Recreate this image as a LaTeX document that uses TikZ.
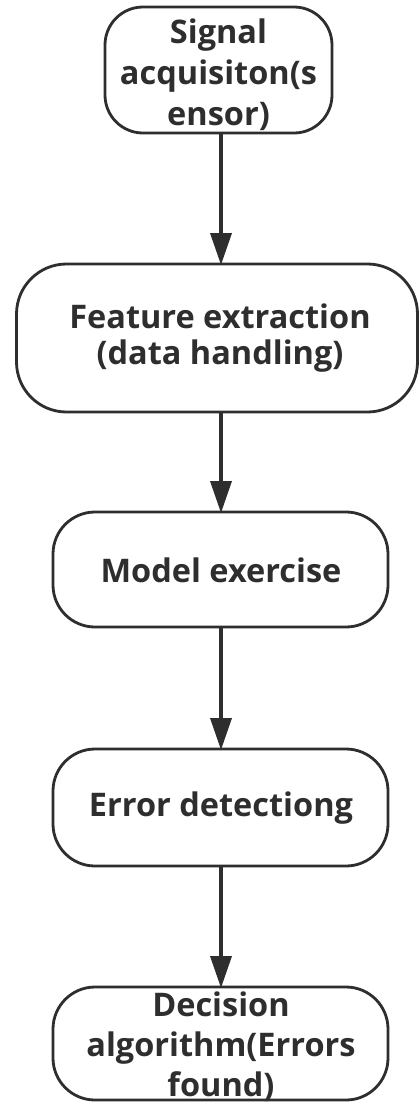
\documentclass[tikz,border=0pt]{standalone}
\usepackage{fontspec}
\setmainfont{Open Sans}
\usetikzlibrary{arrows.meta}
\definecolor{ink}{HTML}{2E2E2E}
\begin{document}
\begin{tikzpicture}[x=1pt,y=-1pt,
  box/.style={draw=ink, line width=2.8pt, fill=white, inner sep=0pt, outer sep=0pt},
  lbl/.style={align=center, text=ink, inner sep=0pt, font=\fontsize{32.5}{41}\selectfont\bfseries},
  arr/.style={draw=ink, line width=3.6pt, -{Triangle[width=21pt,length=32pt]}, shorten >=-1pt}]
\useasboundingbox[fill=white] (0,0) rectangle (420,1103);
\node[box, minimum width=227pt, minimum height=126pt, rounded corners=38pt] (n1) at (218.5,70) {};
\node[box, minimum width=401pt, minimum height=148pt, rounded corners=50pt] (n2) at (217,338) {};
\node[box, minimum width=335pt, minimum height=115pt, rounded corners=42pt] (n3) at (220.5,569.5) {};
\node[box, minimum width=335pt, minimum height=117pt, rounded corners=42pt] (n4) at (220.5,807.5) {};
\node[box, minimum width=335pt, minimum height=113pt, rounded corners=42pt] (n5) at (220.5,1043.5) {};
\node[lbl] (t1) at (218.5,75) {Signal\\acquisiton(s\\ensor)};
\node[lbl, font=\fontsize{32.5}{36}\selectfont\bfseries] (t2) at (220,338) {Feature extraction\\(data handling)};
\node[lbl] (t3) at (221,570) {Model exercise};
\node[lbl] (t4) at (221,808) {Error detectiong};
\node[lbl, font=\fontsize{32.5}{40}\selectfont\bfseries] (t5) at (221,1047) {Decision\\algorithm(Errors\\found)};
\draw[arr] (n1.south -| t3) -- (n2.north -| t3);
\draw[arr] (n2.south -| t3) -- (n3.north -| t3);
\draw[arr] (n3.south -| t3) -- (n4.north -| t3);
\draw[arr] (n4.south -| t3) -- (n5.north -| t3);
\end{tikzpicture}
\end{document}
